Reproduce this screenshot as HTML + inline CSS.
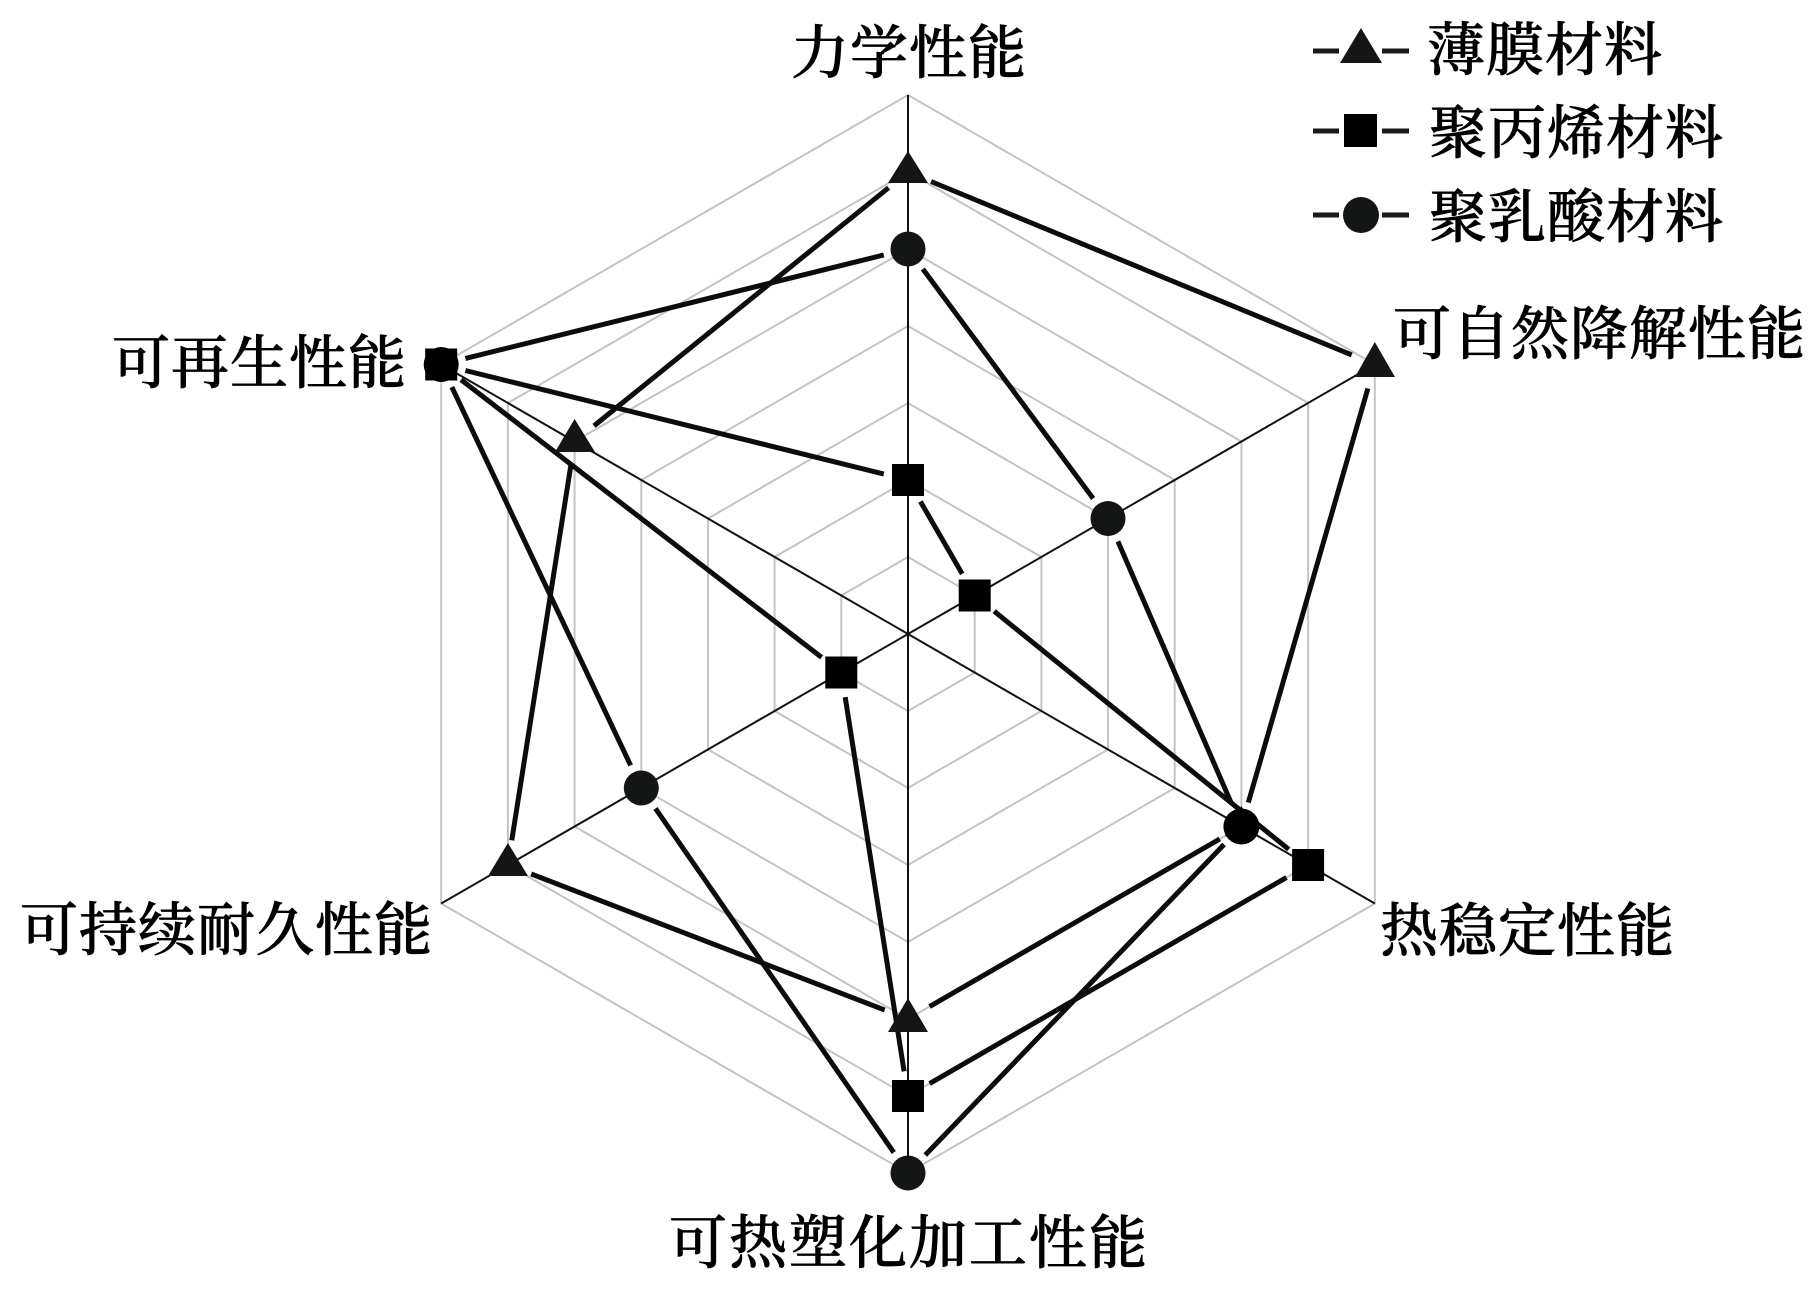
<!DOCTYPE html>
<html lang="zh">
<head>
<meta charset="utf-8">
<title>雷达图</title>
<style>
html,body{margin:0;padding:0;background:#fff;width:1819px;height:1299px;overflow:hidden}
svg{display:block}
text{font-family:"Liberation Serif","Noto Serif CJK SC",serif;font-size:58px;letter-spacing:1px;fill:#000;stroke:#000;stroke-width:.7px;font-weight:500}
</style>
</head>
<body>
<svg width="1819" height="1299" viewBox="0 0 1819 1299" xmlns="http://www.w3.org/2000/svg">
<defs>
<mask id="mf" maskUnits="userSpaceOnUse" x="0" y="0" width="1819" height="1299">
<rect width="1819" height="1299" fill="#fff"/>
<g fill="#000"><circle cx="908" cy="172" r="25"/><circle cx="1374.8" cy="364.5" r="25"/><circle cx="1241.4" cy="826.5" r="25"/><circle cx="908" cy="1019" r="25"/><circle cx="507.9" cy="865" r="25"/><circle cx="574.6" cy="441.5" r="25"/></g>
</mask>
<mask id="mp" maskUnits="userSpaceOnUse" x="0" y="0" width="1819" height="1299">
<rect width="1819" height="1299" fill="#fff"/>
<g fill="#000"><circle cx="908" cy="480" r="25"/><circle cx="974.7" cy="595.5" r="25"/><circle cx="1308.1" cy="865" r="25"/><circle cx="908" cy="1096" r="25"/><circle cx="841.3" cy="672.5" r="25"/><circle cx="441.2" cy="364.5" r="25"/></g>
</mask>
<mask id="ml" maskUnits="userSpaceOnUse" x="0" y="0" width="1819" height="1299">
<rect width="1819" height="1299" fill="#fff"/>
<g fill="#000"><circle cx="908" cy="249" r="25"/><circle cx="1108" cy="518.5" r="25"/><circle cx="1241.4" cy="826.5" r="25"/><circle cx="908" cy="1173" r="25"/><circle cx="641.3" cy="788" r="25"/><circle cx="441.2" cy="364.5" r="25"/></g>
</mask>
</defs>

<rect width="1819" height="1299" fill="#fff"/>

<!-- grid -->
<g fill="none" stroke="#c4c4c4" stroke-width="2">
<polygon points="908,557 974.7,595.5 974.7,672.5 908,711 841.3,672.5 841.3,595.5"/>
<polygon points="908,480 1041.4,557 1041.4,711 908,788 774.6,711 774.6,557"/>
<polygon points="908,403 1108,518.5 1108,749.5 908,865 708,749.5 708,518.5"/>
<polygon points="908,326 1174.7,480 1174.7,788 908,942 641.3,788 641.3,480"/>
<polygon points="908,249 1241.4,441.5 1241.4,826.5 908,1019 574.6,826.5 574.6,441.5"/>
<polygon points="908,172 1308.1,403 1308.1,865 908,1096 507.9,865 507.9,403"/>
<polygon points="908,95 1374.8,364.5 1374.8,903.5 908,1173 441.2,903.5 441.2,364.5"/>
</g>

<!-- axes -->
<g stroke="#111" stroke-width="2">
<line x1="908" y1="95" x2="908" y2="1173"/>
<line x1="1374.8" y1="364.5" x2="441.2" y2="903.5"/>
<line x1="441.2" y1="364.5" x2="1374.8" y2="903.5"/>
</g>

<!-- series lines -->
<g fill="none" stroke="#0c0c0c" stroke-width="5" stroke-linejoin="miter">
<polygon mask="url(#mf)" points="908,172 1374.8,364.5 1241.4,826.5 908,1019 507.9,865 574.6,441.5"/>
<polygon mask="url(#mp)" points="908,480 974.7,595.5 1308.1,865 908,1096 841.3,672.5 441.2,364.5"/>
<polygon mask="url(#ml)" points="908,249 1108,518.5 1241.4,826.5 908,1173 641.3,788 441.2,364.5"/>
</g>

<!-- film triangles -->
<g fill="#141616">
<polygon points="908,151 928,183 888,183"/>
<polygon points="1374.8,342 1395,377 1355,377"/>
<polygon points="908,998 928,1032 888,1032"/>
<polygon points="507.9,843 528,876 488,876"/>
<polygon points="574.6,419 595,452 555,452"/>
</g>
<circle cx="1241.4" cy="826.5" r="18" fill="#000"/>
<polygon points="1241.4,806 1258,836 1225,836" fill="#000"/>

<!-- PP squares -->
<g fill="#000">
<rect x="892" y="464" width="32" height="32"/>
<rect x="958.7" y="579.5" width="32" height="32"/>
<rect x="1292.1" y="849" width="32" height="32"/>
<rect x="892" y="1080" width="32" height="32"/>
<rect x="825.3" y="656.5" width="32" height="32"/>
<rect x="425.2" y="348.5" width="32" height="32"/>
</g>

<!-- PLA circles -->
<g fill="#141616">
<circle cx="908" cy="249" r="17.5"/>
<circle cx="1108" cy="518.5" r="17.5"/>
<circle cx="908" cy="1173" r="17.5"/>
<circle cx="641.3" cy="788" r="17.5"/>
</g>
<circle cx="441.2" cy="364.5" r="17.5" fill="#000"/>

<!-- legend -->
<g stroke="#1a1a1a" stroke-width="5">
<line x1="1313" y1="51" x2="1339" y2="51"/>
<line x1="1382" y1="51" x2="1409" y2="51"/>
<line x1="1313" y1="131" x2="1339" y2="131"/>
<line x1="1382" y1="131" x2="1409" y2="131"/>
<line x1="1313" y1="215" x2="1339" y2="215"/>
<line x1="1382" y1="215" x2="1409" y2="215"/>
</g>
<polygon points="1361,28 1382,63 1340,63" fill="#141616"/>
<rect x="1344" y="114" width="33" height="33" fill="#000"/>
<circle cx="1361" cy="215" r="18" fill="#141616"/>

<!-- labels -->
<text x="791" y="73">力学性能</text>
<text x="1427" y="70">薄膜材料</text>
<text x="1429" y="153">聚丙烯材料</text>
<text x="1429" y="237">聚乳酸材料</text>
<text x="1393" y="354">可自然降解性能</text>
<text x="112" y="383">可再生性能</text>
<text x="20" y="950">可持续耐久性能</text>
<text x="1380" y="951">热稳定性能</text>
<text x="669" y="1263" style="letter-spacing:2px">可热塑化加工性能</text>
</svg>
</body>
</html>
